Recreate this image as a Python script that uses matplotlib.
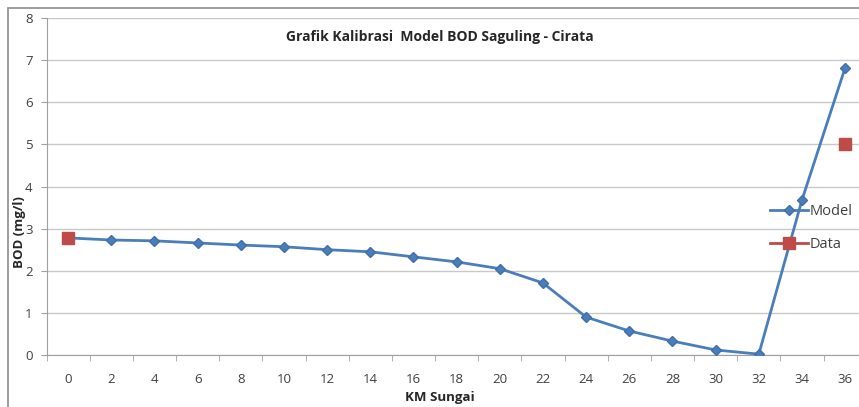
import numpy as np
import matplotlib
matplotlib.use("Agg")
import matplotlib.pyplot as plt
from matplotlib.patches import Rectangle

plt.rcParams['font.family'] = ['Open Sans', 'DejaVu Sans']

km = [0, 2, 4, 6, 8, 10, 12, 14, 16, 18, 20, 22, 24, 26, 28, 30, 32, 34, 36]
model = [2.78, 2.73, 2.71, 2.66, 2.61, 2.57, 2.50, 2.45, 2.33, 2.21, 2.05, 1.71,
         0.90, 0.57, 0.33, 0.12, 0.02, 3.68, 6.82]
data = [2.78] + [np.nan] * 17 + [5.0]
yticks = [0, 1, 2, 3, 4, 5, 6, 7, 8]

W, H = 859, 407
fig = plt.figure(figsize=(W / 100, H / 100), dpi=100)
fig.patch.set_facecolor('white')

# outer chart frame
fig.add_artist(Rectangle((8 / W, -0.05), 1.0, (407 - 8) / H + 0.05, transform=fig.transFigure,
                         fill=False, edgecolor='#8c8c8c', linewidth=1.2))

step = 43.17
ax = fig.add_axes([46.5 / W, (407 - 355) / H, (len(km) * step) / W, (355 - 18) / H])
x = np.arange(len(km))
ax.set_xlim(-0.5, len(km) - 0.5)
ax.set_ylim(0, 8)

ax.set_yticks(yticks)
ax.set_yticklabels([str(v) for v in yticks], fontsize=9.5, color='#404040')
ax.yaxis.grid(True, color='#c8c8c8', linewidth=1.0)
ax.set_axisbelow(True)
ax.tick_params(axis='y', length=4, color='#a0a0a0', pad=6)

ax.set_xticks(x)
ax.set_xticklabels([str(k) for k in km], fontsize=9.5, color='#404040')
ax.tick_params(axis='x', length=0, pad=13)
ax.set_xticks(np.arange(-0.5, len(km) + 0.5, 1.0), minor=True)
ax.tick_params(axis='x', which='minor', length=4, color='#a0a0a0')

for s in ['top', 'right']:
    ax.spines[s].set_visible(False)
ax.spines['left'].set_color('#a0a0a0')
ax.spines['bottom'].set_color('#a0a0a0')

ax.plot(x, model, color='#4a7ebb', linewidth=2, marker='D', markersize=5.5,
        markerfacecolor='#4a7ebb', markeredgecolor='#3f6fa8', label='Model', zorder=3)
ax.plot(x, data, color='#be4b48', linewidth=2, marker='s', markersize=8,
        markerfacecolor='#be4b48', markeredgecolor='#be4b48', label='Data', zorder=4)

fig.text(440 / W, 1 - 37 / H, 'Grafik Kalibrasi  Model BOD Saguling - Cirata',
         ha='center', va='center', fontsize=10, fontweight='bold', color='#262626')

fig.text(440 / W, 1 - 397 / H, 'KM Sungai', ha='center', va='center', fontsize=9.5,
         fontweight='bold', color='#262626')
fig.text(19 / W, 1 - 232 / H, 'BOD (mg/l)', ha='center', va='center', rotation=90,
         fontsize=9.5, fontweight='bold', color='#262626')

leg = fig.legend(loc='center left', bbox_to_anchor=(764 / W, 1 - 228 / H), frameon=False,
                 fontsize=10.5, handlelength=2.6, handletextpad=0.1, labelspacing=1.25,
                 borderaxespad=0)
for t in leg.get_texts():
    t.set_color('#404040')

fig.savefig('out.png', dpi=100, facecolor='white')
